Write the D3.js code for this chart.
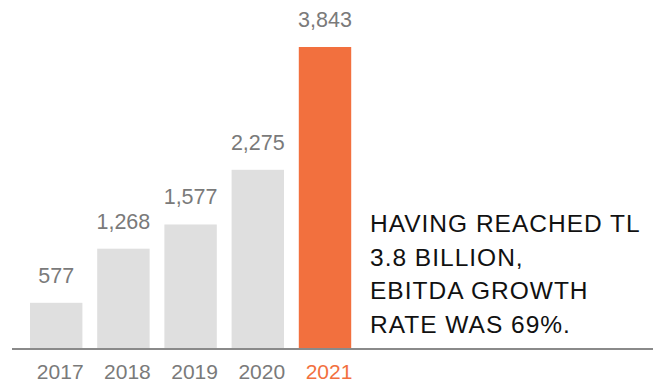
<!DOCTYPE html>
<html>
<head>
<meta charset="utf-8">
<script src="https://cdn.jsdelivr.net/npm/d3@7"></script>
<style>
  html, body { margin: 0; padding: 0; background: #fff; }
  svg { display: block; }
  text { font-family: "Liberation Sans", Arial, Helvetica, sans-serif; }
</style>
</head>
<body>
<svg id="chart" width="668" height="387"></svg>
<script>
const categories = ["2017", "2018", "2019", "2020", "2021"];
const values = [577, 1268, 1577, 2275, 3843];
const valueLabels = ["577", "1,268", "1,577", "2,275", "3,843"];
const highlight = "2021";
const noteLines = ["HAVING REACHED TL", "3.8 BILLION,", "EBITDA GROWTH", "RATE WAS 69%."];

const svg = d3.select("#chart");
const baseY = 348;

const x = d3.scaleBand()
  .domain(categories)
  .range([22.6, 358.6])
  .paddingInner(0.22)
  .paddingOuter(0.11);

const y = d3.scaleLinear()
  .domain([0, 4000])
  .range([baseY, baseY - 4000 * (301 / 3843)]);

const grey = "#dfdfdf", orange = "#f2703e", labelGrey = "#7a7a7a";

const data = categories.map((c, i) => ({ cat: c, val: values[i], label: valueLabels[i] }));

svg.selectAll("rect.bar")
  .data(data)
  .join("rect")
  .attr("class", "bar")
  .attr("x", d => x(d.cat))
  .attr("width", x.bandwidth())
  .attr("y", d => y(d.val))
  .attr("height", d => y(0) - y(d.val))
  .attr("fill", d => d.cat === highlight ? orange : grey);

svg.selectAll("text.val")
  .data(data)
  .join("text")
  .attr("class", "val")
  .attr("x", d => x(d.cat) + x.bandwidth() / 2)
  .attr("y", d => y(d.val) - 20)
  .attr("text-anchor", "middle")
  .attr("font-size", 21.5)
  .attr("fill", labelGrey)
  .text(d => d.label);

// baseline
svg.append("line")
  .attr("x1", 12).attr("x2", 653)
  .attr("y1", baseY + 1).attr("y2", baseY + 1)
  .attr("stroke", "#8a8a8a")
  .attr("stroke-width", 2);

// x axis labels
const xAxis = d3.axisBottom(x).tickSize(0).tickPadding(0);
const gx = svg.append("g").attr("transform", `translate(0,${baseY})`).call(xAxis);
gx.select(".domain").remove();
gx.selectAll(".tick text")
  .attr("x", 4)
  .attr("y", 31)
  .attr("dy", 0)
  .attr("font-size", 21)
  .attr("font-family", "Liberation Sans, Arial, sans-serif")
  .attr("fill", d => d === highlight ? orange : labelGrey);

// note text
const note = svg.append("text")
  .attr("x", 370)
  .attr("font-size", 24.5)
  .attr("letter-spacing", 1)
  .attr("fill", "#111");
noteLines.forEach((t, i) => {
  note.append("tspan").attr("x", 370).attr("y", 232 + i * 33.7).text(t);
});
</script>
</body>
</html>
